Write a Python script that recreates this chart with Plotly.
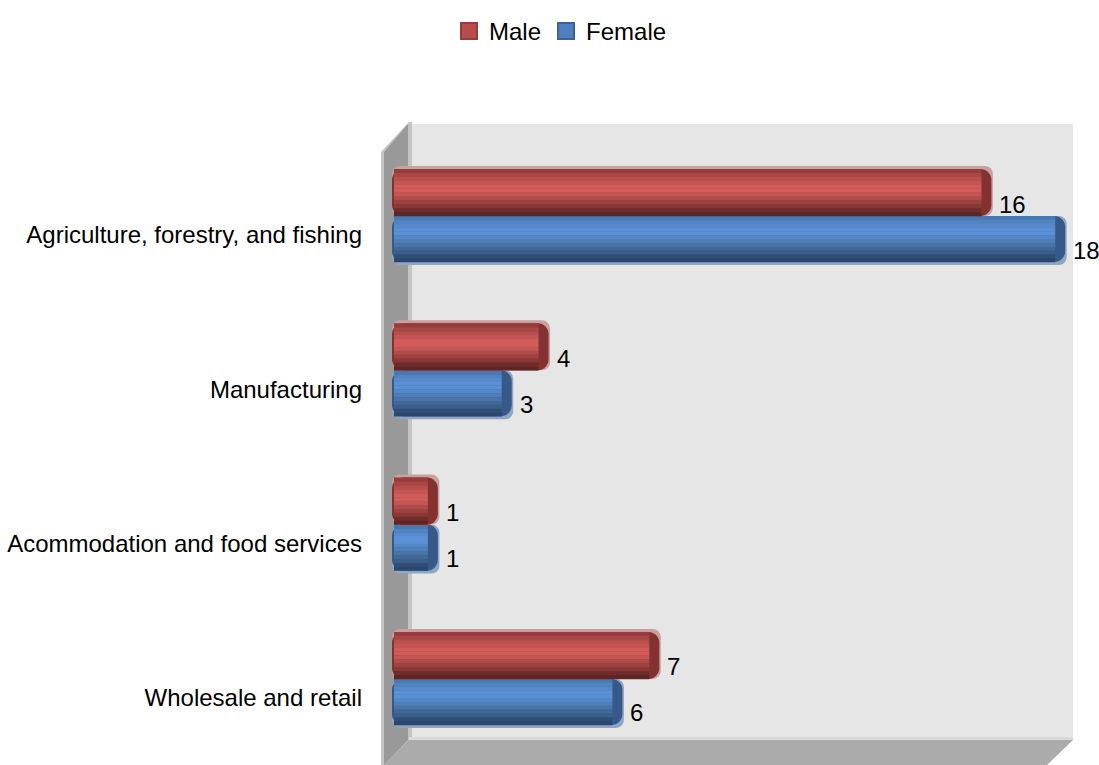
import plotly.graph_objects as go

categories = ["Agriculture, forestry, and fishing", "Manufacturing",
              "Acommodation and food services", "Wholesale and retail"]
male = [16, 4, 1, 7]
female = [18, 3, 1, 6]

W, H = 1099, 765
UNIT_X = 36.9
ZERO_PX = 401
CENTER_PX = 216
UNIT_Y = 154.3
LABEL_SHIFT = 19
FONT = "Liberation Sans, Arial"
FS = 24

male_bands = ["#963c3c", "#a94746", "#b64f4d", "#c35654", "#d15c59", "#d15c59", "#c35654",
              "#b04c4a", "#9c4240", "#8a3735", "#6f2c2b", "#5f2525"]
female_bands = ["#4a78b0", "#5084c0", "#5789cc", "#5b90d6", "#5b90d6", "#5487c8", "#4f7eb8",
                "#4874a8", "#416898", "#3a5d8a", "#2f4f78", "#2a466c"]


def yrange(center):
    return [(H - center) / UNIT_Y, -center / UNIT_Y]


def px(x):
    return x / W


def py(y):
    return 1 - y / H


def poly(points, color):
    path = "M" + " L".join(f"{px(a):.5f},{py(b):.5f}" for a, b in points) + " Z"
    return dict(type="path", path=path, xref="paper", yref="paper", fillcolor=color,
                line_width=0, layer="below")


fig = go.Figure()


def cylinder(values, bands, cap, halo, top_px, height_px, halo_top):
    base_cap = -9 / UNIT_X
    base_band = -7 / UNIT_X
    hgt = height_px / UNIT_Y
    top = top_px / UNIT_Y
    # halo
    fig.add_bar(y=categories, x=[v - base_cap + 1.5 / UNIT_X for v in values], base=base_cap,
                orientation="h", width=(height_px + 3) / UNIT_Y,
                offset=(top_px - 3) / UNIT_Y if halo_top else top,
                marker=dict(color=halo, line_width=0, cornerradius=8), showlegend=False,
                hoverinfo="skip")
    # end caps
    fig.add_bar(y=categories, x=[v - base_cap for v in values], base=base_cap, orientation="h",
                width=hgt, offset=top, marker=dict(color=cap, line_width=0, cornerradius=11),
                showlegend=False, hoverinfo="skip")
    # shaded body
    n = len(bands)
    for i, color in enumerate(bands):
        fig.add_bar(y=categories, x=[v - 10 / UNIT_X - base_band for v in values], base=base_band,
                    orientation="h", width=hgt / n * 1.06, offset=top + hgt * i / n,
                    marker=dict(color=color, line_width=0), showlegend=False, hoverinfo="skip")


cylinder(female, female_bands, "#36598a", "#8fa5c4", 0, 46, False)
cylinder(male, male_bands, "#843230", "#c9a0a0", -47, 47, True)

# legend entries
fig.add_scatter(x=[None], y=[None], name="Male", mode="markers",
                marker=dict(symbol="square", size=18, color="#b84c4a",
                            line=dict(color="#963c3c", width=2)))
fig.add_scatter(x=[None], y=[None], name="Female", mode="markers",
                marker=dict(symbol="square", size=18, color="#4f7fc0",
                            line=dict(color="#3a6296", width=2)))

# invisible trace that carries the category tick labels on the shifted axis
fig.add_scatter(x=[0] * len(categories), y=categories, yaxis="y2", mode="markers",
                marker=dict(opacity=0), showlegend=False, hoverinfo="skip")

# value labels
for cat, m, f in zip(categories, male, female):
    fig.add_annotation(x=m, y=cat, text=str(m), showarrow=False, xanchor="left", yanchor="middle",
                       xshift=6, yshift=12, font=dict(size=FS, color="black", family=FONT))
    fig.add_annotation(x=f, y=cat, text=str(f), showarrow=False, xanchor="left", yanchor="middle",
                       xshift=6, yshift=-34, font=dict(size=FS, color="black", family=FONT))

shapes = [
    poly([(409, 124), (1073, 124), (1073, 740), (409, 740)], "#e6e6e6"),
    poly([(381, 152), (409, 122), (412, 122), (412, 740), (384, 765), (381, 765)], "#c4c4c4"),
    poly([(384, 152), (408, 124), (408, 740), (384, 765)], "#999999"),
    poly([(409, 740), (1073, 740), (1047, 765), (384, 765)], "#ababab"),
    poly([(409, 737), (1073, 737), (1073, 740), (409, 740)], "#dadada"),
]

fig.update_layout(
    width=W, height=H, autosize=False,
    margin=dict(l=0, r=0, t=0, b=0),
    paper_bgcolor="white", plot_bgcolor="rgba(0,0,0,0)",
    barmode="overlay",
    shapes=shapes,
    font=dict(family=FONT, size=FS, color="black"),
    xaxis=dict(range=[-ZERO_PX / UNIT_X, (W - ZERO_PX) / UNIT_X], visible=False, domain=[0, 1],
               automargin=False),
    yaxis=dict(type="category", categoryorder="array", categoryarray=categories,
               range=yrange(CENTER_PX), visible=False, automargin=False),
    yaxis2=dict(type="category", categoryorder="array", categoryarray=categories,
                range=yrange(CENTER_PX + LABEL_SHIFT), overlaying="y", anchor="free",
                position=362 / W, side="left", showgrid=False, zeroline=False, showline=False,
                ticks="", automargin=False, tickfont=dict(size=FS, family=FONT, color="black")),
    legend=dict(orientation="h", x=449 / W, y=1 - 9 / H, xanchor="left", yanchor="top",
                bgcolor="rgba(0,0,0,0)", font=dict(size=FS, family=FONT), itemwidth=30,
                traceorder="normal"),
)

fig.write_html("out.html", config={"displayModeBar": False},
               post_script="document.body.style.margin='0';")
